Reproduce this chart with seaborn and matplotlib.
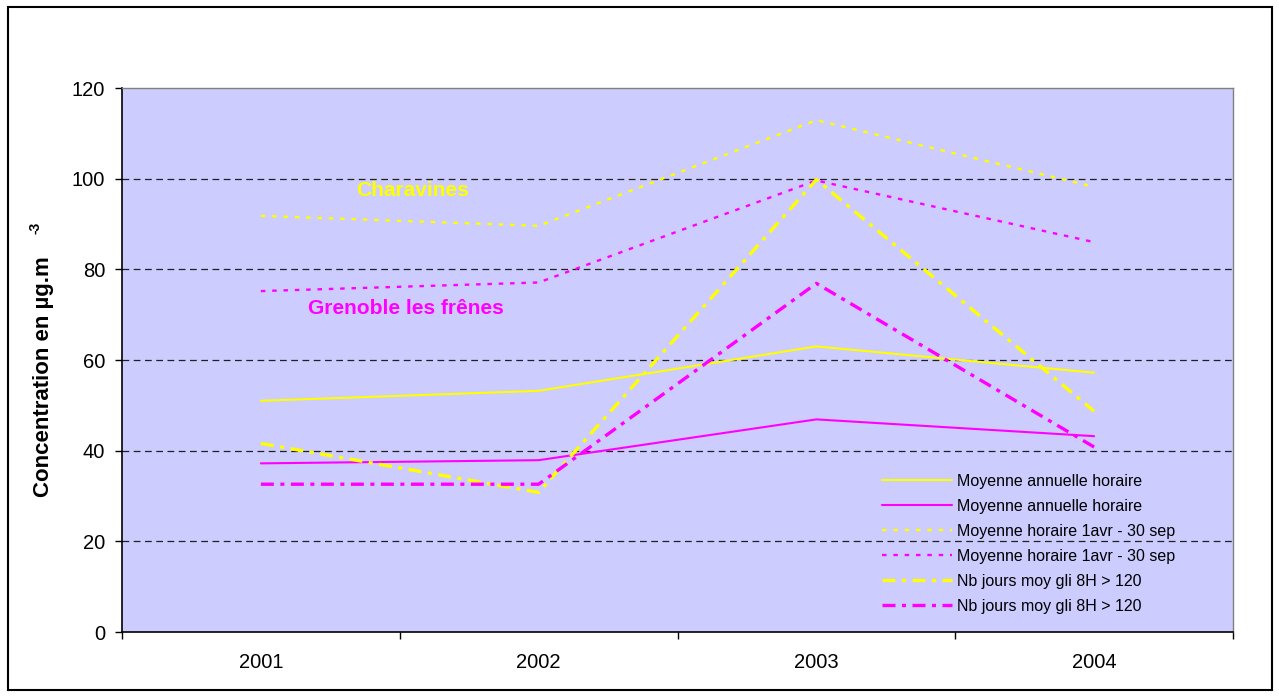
import numpy as np
import pandas as pd
import matplotlib
matplotlib.use("Agg")
import matplotlib.pyplot as plt
from matplotlib.patches import Rectangle
import seaborn as sns

# ---- data ----
years = ["2001", "2002", "2003", "2004"]
charavines_annuelle = [51.0, 53.2, 63.0, 57.2]
grenoble_annuelle = [37.2, 37.9, 46.9, 43.2]
charavines_ete = [91.8, 89.6, 112.9, 98.2]
grenoble_ete = [75.2, 77.1, 99.6, 86.0]
charavines_jours = [41.6, 30.8, 99.8, 48.7]
grenoble_jours = [32.6, 32.6, 76.9, 40.8]
legend_labels = [
    "Moyenne annuelle horaire",
    "Moyenne annuelle horaire",
    "Moyenne horaire 1avr - 30 sep",
    "Moyenne horaire 1avr - 30 sep",
    "Nb jours moy gli 8H > 120",
    "Nb jours moy gli 8H > 120",
]
y_ticks = [0, 20, 40, 60, 80, 100, 120]

YELLOW = "#FFFF00"
MAGENTA = "#FF00FF"

sns.set_theme(style="white")
plt.rcParams["font.family"] = ["Liberation Sans", "DejaVu Sans"]
plt.rcParams["text.color"] = "black"
plt.rcParams["xtick.color"] = "black"
plt.rcParams["ytick.color"] = "black"

W, H = 1279, 697
fig = plt.figure(figsize=(W / 100, H / 100), dpi=100)
ax = fig.add_axes([122 / W, 1 - 632 / H, 1111 / W, 544 / H])
ax.set_facecolor("#CCCCFF")

pos = np.arange(len(years)) + 0.5
series = [
    (charavines_annuelle, YELLOW, "-", 1.5),
    (grenoble_annuelle, MAGENTA, "-", 1.5),
    (charavines_ete, YELLOW, (0, (1.9, 2.9)), 1.7),
    (grenoble_ete, MAGENTA, (0, (1.9, 2.9)), 1.7),
    (charavines_jours, YELLOW, (0, (3.9, 1.95, 1.2, 1.95)), 2.4),
    (grenoble_jours, MAGENTA, (0, (3.9, 1.95, 1.2, 1.95)), 2.4),
]
handles = []
for (vals, col, ls, lw), lab in zip(series, legend_labels):
    df = pd.DataFrame({"pos": pos, "val": vals})
    sns.lineplot(data=df, x="pos", y="val", ax=ax, color=col, lw=lw,
                 legend=False, zorder=3)
    ln = ax.lines[-1]
    ln.set_linestyle(ls)
    ln.set_dash_capstyle("butt")
    ln.set_label(lab)
    handles.append(ln)

ax.set_xlim(0, len(years))
ax.set_ylim(0, 120)
ax.set_xlabel("")
ax.set_ylabel("")

ax.set_yticks(y_ticks)
ax.set_yticklabels([str(t) for t in y_ticks], fontsize=14.5, color="black")
ax.set_xticks(np.arange(len(years) + 1))
ax.set_xticklabels([])
ax.set_xticks(pos, minor=True)
ax.set_xticklabels(years, minor=True, fontsize=14.5, color="black")
ax.tick_params(axis="y", which="major", direction="out", length=5, width=1,
               color="black", pad=7, left=True)
ax.tick_params(axis="x", which="major", direction="out", length=5, width=1,
               color="black", bottom=True)
ax.tick_params(axis="x", which="minor", length=0, pad=15, bottom=True)

ax.yaxis.grid(True, color="#202020", linestyle=(0, (5.4, 3.6)), lw=0.9)
ax.set_axisbelow(True)
gl = ax.yaxis.get_gridlines()
gl[0].set_visible(False)
gl[-1].set_visible(False)

for s in ["left", "bottom"]:
    ax.spines[s].set_color("black")
    ax.spines[s].set_linewidth(1.2)
for s in ["top", "right"]:
    ax.spines[s].set_color("#808080")
    ax.spines[s].set_linewidth(1.0)

leg = ax.legend(handles=handles, labels=legend_labels, loc="upper left",
                bbox_to_anchor=(882 / W, 1 - 474 / H),
                bbox_transform=fig.transFigure, frameon=False,
                fontsize=11.5, handlelength=4.4, handletextpad=0.3,
                labelspacing=0.62, borderpad=0, borderaxespad=0,
                labelcolor="black")

fig.text(44 / W, 1 - 377 / H, "Concentration en µg.m", rotation=90,
         fontsize=16, fontweight="bold", ha="center", va="center")
fig.text(36 / W, 1 - 228 / H, "-3", rotation=90, fontsize=10,
         fontweight="bold", ha="center", va="center")

fig.text(412 / W, 1 - 190 / H, "Charavines", color=YELLOW, fontsize=15,
         fontweight="bold", ha="center", va="center")
fig.text(406 / W, 1 - 309 / H, "Grenoble les frênes", color=MAGENTA,
         fontsize=15, fontweight="bold", ha="center", va="center")

fig.add_artist(Rectangle((8 / W, 1 - 690 / H), (1272 - 8) / W, (690 - 7) / H,
                         transform=fig.transFigure, fill=False,
                         edgecolor="black", lw=1.5))

fig.savefig("out.png", dpi=100, facecolor="white")
